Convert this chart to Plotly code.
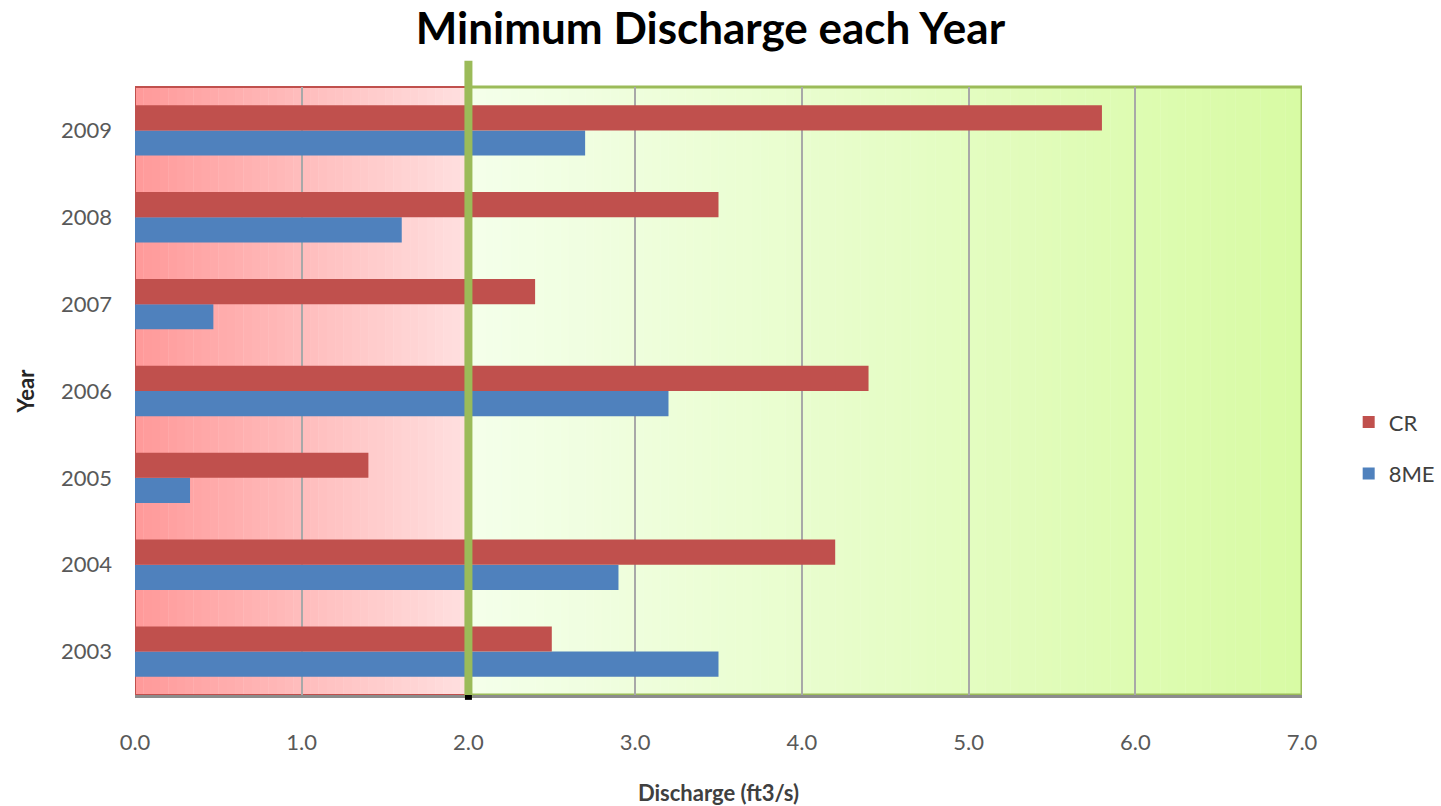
import plotly.graph_objects as go

# Minimum discharge per year (ft3/s)
years = ["2003", "2004", "2005", "2006", "2007", "2008", "2009"]
cr_values = [2.5, 4.2, 1.4, 4.4, 2.4, 3.5, 5.8]
me_values = [3.5, 2.9, 0.33, 3.2, 0.47, 1.6, 2.7]
x_ticks = [0, 1, 2, 3, 4, 5, 6, 7]
x_tick_text = ["0.0", "1.0", "2.0", "3.0", "4.0", "5.0", "6.0", "7.0"]

THRESHOLD = 2.0
X_MAX = 7.0

CR_COLOR = "#C0504D"
ME_COLOR = "#4F81BD"
GREEN = "#9BBB59"
FONT = "Lato, 'Open Sans', sans-serif"


def mix(c0, c1, t):
    a = [int(c0[i:i + 2], 16) for i in (1, 3, 5)]
    b = [int(c1[i:i + 2], 16) for i in (1, 3, 5)]
    return "rgb({},{},{})".format(*[round(a[k] + (b[k] - a[k]) * t) for k in range(3)])


def gradient_band(x_start, x_end, c_start, c_end, steps):
    w = (x_end - x_start) / steps
    out = []
    for i in range(steps):
        out.append(dict(
            type="rect", xref="x", yref="paper", layer="below",
            x0=x_start + i * w, x1=x_start + (i + 1) * w + w * 0.05,
            y0=0, y1=1, line=dict(width=0),
            fillcolor=mix(c_start, c_end, (i + 0.5) / steps),
        ))
    return out


fig = go.Figure()
fig.add_trace(go.Bar(
    y=years, x=me_values, orientation="h", name="8ME",
    marker=dict(color=ME_COLOR, line=dict(width=0)),
    legendgroup="me", legendrank=2,
))
fig.add_trace(go.Bar(
    y=years, x=cr_values, orientation="h", name="CR",
    marker=dict(color=CR_COLOR, line=dict(width=0)),
    legendgroup="cr", legendrank=1,
))

shapes = []
shapes += gradient_band(0, THRESHOLD, "#FF9999", "#FFE0E0", 40)
shapes += gradient_band(THRESHOLD, X_MAX, "#F4FFEA", "#D8FBA4", 100)
# zone borders
shapes.append(dict(type="rect", xref="x", yref="paper", layer="below",
                   x0=0, x1=THRESHOLD, y0=0, y1=1,
                   line=dict(color=CR_COLOR, width=2)))
shapes.append(dict(type="rect", xref="x", yref="paper", layer="below",
                   x0=THRESHOLD, x1=X_MAX, y0=0, y1=1,
                   line=dict(color=GREEN, width=3)))
# threshold marker
shapes.append(dict(type="line", xref="x", yref="paper", layer="above",
                   x0=THRESHOLD, x1=THRESHOLD, y0=-0.004, y1=1.043,
                   line=dict(color=GREEN, width=8)))
shapes.append(dict(type="rect", xref="x", yref="paper", layer="above",
                   xsizemode="pixel", xanchor=THRESHOLD, x0=-3.5, x1=3.5,
                   y0=-0.008, y1=0, fillcolor="#000000", line=dict(width=0)))

fig.update_layout(
    width=1441, height=806,
    margin=dict(l=135, r=139, t=87, b=111, autoexpand=False),
    paper_bgcolor="white", plot_bgcolor="rgba(0,0,0,0)",
    barmode="group", bargap=0.42, bargroupgap=0,
    shapes=shapes,
    title=dict(text="<b>Minimum Discharge each Year</b>", x=0.493, xanchor="center",
               y=0.964, yanchor="middle",
               font=dict(family=FONT, size=44, color="#000000")),
    font=dict(family=FONT, color="#595959"),
    xaxis=dict(
        range=[0, X_MAX], tickvals=x_ticks, ticktext=x_tick_text,
        showgrid=True, gridcolor="#A8A8A8", gridwidth=2,
        zeroline=False, showline=True, linecolor="#8C8C8C", linewidth=3,
        ticks="", ticklabelstandoff=26,
        tickfont=dict(size=22, color="#595959"),
        title=dict(text="<b>Discharge (ft3/s)</b>", standoff=32,
                   font=dict(size=22, color="#404040")),
    ),
    yaxis=dict(
        type="category", categoryorder="array", categoryarray=years,
        showgrid=False, zeroline=False, showline=False, ticks="",
        ticklabelstandoff=22,
        tickfont=dict(size=22, color="#595959"),
        title=dict(text="<b>Year</b>", standoff=20,
                   font=dict(size=22, color="#262626")),
    ),
    legend=dict(
        x=1.04, xanchor="left", y=0.406, yanchor="middle",
        traceorder="grouped", tracegroupgap=20,
        font=dict(size=22, color="#404040"), bgcolor="rgba(0,0,0,0)",
        itemwidth=30,
    ),
)

fig.write_html("out.html")
